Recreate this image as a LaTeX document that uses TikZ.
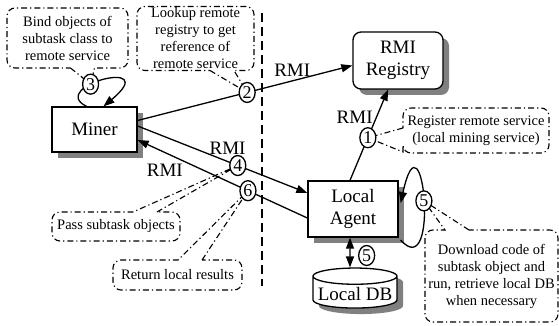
\documentclass[tikz,border=0pt]{standalone}
\usepackage{fontspec}
\setmainfont{Liberation Serif}
\usetikzlibrary{positioning, arrows.meta, shapes.geometric, shapes.callouts, shadows}
\pgfdeclarelayer{notes}
\pgfsetlayers{notes,main}

\begin{document}
\begin{tikzpicture}[x=1pt, y=-1pt, line width=1.3pt,
        box/.style={draw, fill=white, minimum width=85pt, minimum height=45pt, align=center,
            font=\fontsize{19}{22}\selectfont,
            drop shadow={shadow xshift=6pt, shadow yshift=-6pt, fill=gray, opacity=1}},
        num/.style={ellipse, draw, fill=white, inner sep=0pt, minimum width=16pt, minimum height=20pt,
            font=\fontsize{18}{18}\selectfont},
        note/.style={rectangle callout, draw, dash pattern=on 6pt off 3pt on 1.2pt off 3pt, line width=1.1pt,
            rounded corners=8pt, align=center, inner sep=1pt, callout pointer width=24pt,
            font=\fontsize{14.5}{17}\selectfont},
        lbl/.style={font=\fontsize{19}{22}\selectfont},
        arrow/.style={-{Triangle[length=11pt, width=8pt]}},
        divider/.style={dash pattern=on 9pt off 5pt, line width=1.8pt}
    ]
      \useasboundingbox (0,0) rectangle (559,326);

      % Boxes
      \node[box] (miner) at (94.5,129.5) {Miner};
      \node[box, rounded corners=8pt, minimum width=90pt, minimum height=57pt] (registry) at (398,60.5) {RMI\\Registry};
      \node[box, minimum width=90pt, minimum height=56pt] (agent) at (353,209) {Local\\Agent};
      \node[box, cylinder, shape border rotate=90, aspect=0.2, inner ysep=0pt, minimum width=84pt,
        minimum height=40pt] (db) at (355,294) {Local DB};

      % Divider
      \coordinate (divtop) at (262,13);
      \coordinate (divbot) at (262,286);
      \draw[divider] (divtop) -- (divbot);

      % RMI calls
      \draw[arrow] ([yshift=9pt]miner.east) -- node[num, pos=0.51] (c2) {2}
        node[lbl, pos=0.72, above] {RMI} ([yshift=-5pt]registry.west);
      \draw[arrow] ([xshift=-3pt]agent.north) -- node[num, pos=0.47] (c1) {1}
        node[lbl, pos=0.7, left] {RMI} ([xshift=-10pt]registry.south);
      \draw[arrow] ([yshift=3.5pt]miner.east) -- node[num, pos=0.59] (c4) {4}
        node[lbl, pos=0.53, above=3pt] {RMI} ([yshift=16pt]agent.west);
      \draw[arrow] ([yshift=-9pt]agent.west) -- node[num, pos=0.35] (c6) {6}
        node[lbl, pos=0.84, below=8pt] {RMI} ([yshift=-10.5pt]miner.east);

      % Loops
      \draw[arrow] ([xshift=-8pt]miner.north) .. controls +(-40,-20) and +(60,-50) ..
        ([xshift=9pt]miner.north) node[num, pos=0.38] (c3) {3};
      \draw[arrow] ([shift={(2,31)}]agent.east) .. controls +(40,45) and +(22,-100) ..
        ([shift={(2,-6)}]agent.east) node[num, pos=0.5] (c5a) {5};
      \draw[{Triangle[length=11pt, width=8pt]}-{Triangle[length=11pt, width=8pt]}]
        ([xshift=-3pt]agent.south) -- ([xshift=-5pt]db.north) node[num, pos=0.6, right=8pt] (c5b) {5};

      % Notes
      \begin{pgfonlayer}{notes}
        \node[note, minimum width=121pt, minimum height=60pt, callout absolute pointer={(c3)}] (bind)
          at (67.5,38) {Bind objects of\\subtask class to\\remote service};
        \node[note, minimum width=117pt, minimum height=64pt, callout absolute pointer={(c2)}] (lookup)
          at (195.5,38.5) {Lookup remote\\registry to get\\reference of\\remote service};
        \node[note, minimum width=146pt, minimum height=45pt, callout absolute pointer={(c1)}] (register)
          at (476,130.5) {Register remote service\\(local mining service)};
        \node[note, minimum width=128pt, minimum height=29pt, callout absolute pointer={(c4)}] (pass)
          at (116,226.5) {Pass subtask objects};
        \node[note, minimum width=129pt, minimum height=30pt, callout absolute pointer={(c6)}] (return)
          at (177.5,275) {Return local results};
        \node[note, minimum width=133pt, minimum height=92pt, callout absolute pointer={(c5a)}] (download)
          at (491.5,276) {Download code of\\subtask object and\\run, retrieve local DB\\when necessary};
      \end{pgfonlayer}
    \end{tikzpicture}
\end{document}
